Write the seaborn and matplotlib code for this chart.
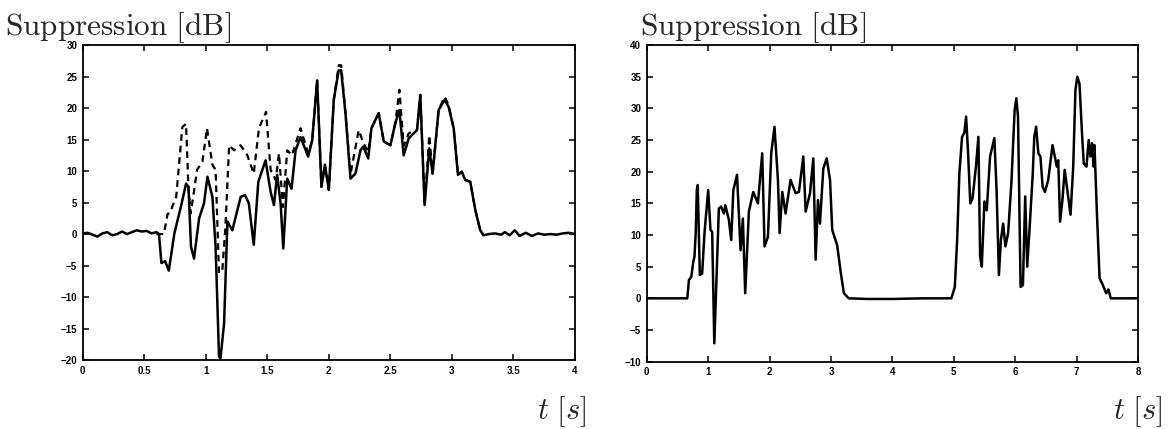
import numpy as np
import pandas as pd
import matplotlib
matplotlib.use("Agg")
import matplotlib.pyplot as plt
import seaborn as sns

# left panel: solid curve
t_left = [0, 0.04, 0.08, 0.12, 0.16, 0.2, 0.24, 0.28, 0.32, 0.36, 0.4, 0.44, 0.48, 0.52, 0.56, 0.6,
          0.62, 0.64, 0.67, 0.70, 0.745, 0.80, 0.84, 0.86, 0.88, 0.905, 0.946, 0.986, 1.014, 1.054,
          1.08, 1.108, 1.12, 1.149, 1.176, 1.216, 1.284, 1.319, 1.35, 1.39, 1.427, 1.486, 1.527,
          1.554, 1.58, 1.608, 1.63, 1.662, 1.697, 1.73, 1.77, 1.832, 1.865, 1.905, 1.94, 1.968,
          2.0, 2.04, 2.08, 2.10, 2.135, 2.176, 2.216, 2.257, 2.28, 2.32, 2.346, 2.405, 2.446, 2.5,
          2.54, 2.573, 2.608, 2.649, 2.716, 2.743, 2.778, 2.816, 2.843, 2.892, 2.94, 2.973, 3.014,
          3.049, 3.08, 3.108, 3.149, 3.19, 3.23, 3.257, 3.3, 3.35, 3.4, 3.43, 3.47, 3.51, 3.55,
          3.6, 3.65, 3.7, 3.75, 3.8, 3.85, 3.9, 3.95, 4.0]
supp_left = [0.1, 0.2, -0.1, -0.4, 0.1, 0.3, -0.2, 0.0, 0.4, 0.0, 0.3, 0.6, 0.4, 0.5, 0.1, 0.3,
             0.0, -4.6, -4.3, -5.8, 0.1, 4.5, 8.0, 7.5, -2.0, -3.9, 2.5, 4.9, 9.1, 5.9,
             -2.0, -19.5, -19.7, -14.2, 2.0, 0.6, 5.9, 6.2, 4.9, -1.7, 8.3, 11.7, 6.7,
             4.6, 9.4, 4.9, -2.3, 8.8, 7.2, 13.3, 15.4, 12.3, 14.9, 24.4, 7.5, 11.0,
             7.0, 21.3, 26.0, 26.0, 19.2, 8.8, 9.6, 13.3, 13.9, 12.0, 16.8, 19.2, 14.7, 14.1,
             17.6, 19.7, 12.5, 15.2, 16.5, 22.1, 4.6, 13.6, 9.6, 19.7, 21.3, 20.2, 16.8,
             9.4, 9.9, 8.6, 8.3, 3.8, 0.6, -0.2, 0.0, 0.1, -0.1, 0.3, -0.2, 0.6, -0.3,
             0.2, -0.3, 0.1, -0.1, 0.0, -0.1, 0.1, 0.2, 0.0]

# left panel: dashed curve
t_dash = [0.6, 0.66, 0.69, 0.707, 0.76, 0.81, 0.84, 0.86, 0.878, 0.93, 0.973, 1.01, 1.054, 1.08,
          1.108, 1.135, 1.16, 1.19, 1.23, 1.284, 1.338, 1.39, 1.432, 1.49, 1.527, 1.568, 1.595,
          1.627, 1.662, 1.70, 1.77, 1.832, 1.865, 1.905, 1.94, 1.968, 2.0, 2.04, 2.08, 2.10,
          2.135, 2.176, 2.19, 2.243, 2.28, 2.32, 2.346, 2.405, 2.446, 2.5, 2.54, 2.573, 2.608,
          2.649, 2.716, 2.743, 2.778, 2.816, 2.843, 2.892, 2.94, 2.973, 3.014, 3.049, 3.08,
          3.108, 3.149, 3.19, 3.23, 3.257]
supp_dash = [0.0, 0.0, 3.2, 3.3, 5.9, 17.0, 17.5, 7.0, 3.3, 10.2, 11.5, 16.8, 11.0, 10.2,
             -6.2, -5.7, 1.2, 14.1, 13.3, 14.1, 12.5, 9.6, 16.8, 19.4, 10.2, 8.6, 12.8,
             4.3, 13.3, 12.5, 16.8, 12.8, 14.9, 24.4, 7.5, 11.0, 7.0, 21.3, 26.8, 26.8,
             19.2, 9.5, 11.0, 16.5, 14.5, 13.0, 16.8, 19.2, 14.7, 14.1, 17.6, 22.9, 14.0,
             16.0, 16.5, 22.1, 4.6, 15.7, 9.6, 19.7, 21.8, 20.5, 16.8, 9.4, 9.9,
             8.6, 8.3, 3.8, 0.6, -0.2]

# right panel
t_right = [0, 0.66, 0.687, 0.725, 0.758, 0.777, 0.797, 0.815, 0.83, 0.864, 0.902, 0.94, 1.0,
           1.038, 1.065, 1.10, 1.147, 1.174, 1.21, 1.255, 1.28, 1.337, 1.375, 1.41, 1.47, 1.527,
           1.565, 1.603, 1.663, 1.734, 1.81, 1.88, 1.918, 1.973, 2.027, 2.08, 2.136, 2.163,
           2.207, 2.26, 2.342, 2.424, 2.478, 2.549, 2.587, 2.658, 2.712, 2.75, 2.788, 2.82,
           2.875, 2.93, 2.984, 3.02, 3.1, 3.16, 3.21, 3.29, 3.6, 4.0, 4.5, 4.96,
           5.016, 5.054, 5.09, 5.134, 5.17, 5.2, 5.23, 5.268, 5.305, 5.36, 5.40, 5.428, 5.455,
           5.498, 5.536, 5.59, 5.66, 5.696, 5.734, 5.766, 5.803, 5.84, 5.884, 5.937, 5.99,
           6.018, 6.045, 6.087, 6.125, 6.162, 6.195, 6.232, 6.285, 6.31, 6.34, 6.376, 6.41,
           6.446, 6.484, 6.537, 6.607, 6.634, 6.676, 6.70, 6.73, 6.768, 6.805, 6.848, 6.90,
           6.944, 6.98, 7.01, 7.046, 7.09, 7.116, 7.16, 7.196, 7.223, 7.25, 7.276, 7.29,
           7.33, 7.373, 7.426, 7.48, 7.517, 7.555, 7.8, 8.0]
supp_right = [0, 0, 2.9, 3.4, 5.8, 6.6, 10.3, 17.1, 17.9, 3.7, 3.9, 10.3, 17.1,
              10.8, 10.5, -7.1, 6.6, 14.2, 14.5, 13.4, 14.7, 12.4, 9.2, 17.1, 19.5, 7.6,
              12.6, 0.8, 13.7, 16.8, 15.0, 22.9, 8.2, 9.7, 22.9, 27.1, 18.7, 10.3,
              16.8, 13.4, 18.7, 16.6, 16.8, 22.4, 13.7, 16.6, 22.1, 6.1, 15.5, 11.8,
              20.5, 22.1, 18.7, 10.8, 8.4, 4.0, 0.8, 0.0, -0.1, -0.1, 0.0, 0.0,
              1.8, 9.2, 19.7, 25.5, 26.1, 28.7, 23.4, 15.0, 15.8, 20.8, 25.5, 6.6, 5.0,
              15.3, 13.9, 22.4, 25.3, 17.1, 3.7, 9.2, 11.8, 8.2, 10.3, 18.2, 29.7,
              31.6, 28.7, 1.8, 2.1, 16.1, 5.0, 10.8, 19.7, 25.5, 27.1, 22.9, 22.4,
              17.6, 16.8, 18.7, 24.2, 22.9, 20.8, 21.8, 12.1, 15.5, 20.3, 17.1, 13.2,
              20.8, 32.9, 35.0, 33.9, 25.5, 21.3, 20.8, 25.0, 22.4, 24.5, 20.8, 24.2,
              13.4, 3.2, 2.1, 0.8, 1.4, 0.0, 0.0, 0.0]

left_xticks = [0, 0.5, 1, 1.5, 2, 2.5, 3, 3.5, 4]
left_xlabels = ["0", "0.5", "1", "1.5", "2", "2.5", "3", "3.5", "4"]
left_yticks = [-20, -15, -10, -5, 0, 5, 10, 15, 20, 25, 30]
right_xticks = [0, 1, 2, 3, 4, 5, 6, 7, 8]
right_yticks = [-10, -5, 0, 5, 10, 15, 20, 25, 30, 35, 40]

sns.set_style("ticks")
plt.rcParams['font.family'] = ['Liberation Sans', 'DejaVu Sans']
plt.rcParams['mathtext.fontset'] = 'cm'

fig = plt.figure(figsize=(11.74, 4.29), dpi=100)
ax1 = fig.add_axes([0.0704, 0.1608, 0.4194, 0.734])
ax2 = fig.add_axes([0.5509, 0.157, 0.4185, 0.738])

sns.lineplot(x=t_dash, y=supp_dash, ax=ax1, color="black", lw=1.6,
             linestyle=(0, (3, 2.2)), estimator=None, sort=False)
sns.lineplot(x=t_left, y=supp_left, ax=ax1, color="black", lw=1.8,
             estimator=None, sort=False)
sns.lineplot(x=t_right, y=supp_right, ax=ax2, color="black", lw=1.8,
             estimator=None, sort=False)

ax1.set_xlim(0, 4)
ax1.set_ylim(-20, 30)
ax1.set_xticks(left_xticks)
ax1.set_xticklabels(left_xlabels)
ax1.set_yticks(left_yticks)

ax2.set_xlim(0, 8)
ax2.set_ylim(-10, 40)
ax2.set_xticks(right_xticks)
ax2.set_yticks(right_yticks)

for ax in (ax1, ax2):
    for s in ax.spines.values():
        s.set_visible(True)
        s.set_linewidth(1.3)
        s.set_color("black")
    ax.tick_params(direction="in", length=4, width=1.1, top=True, right=True,
                   labelsize=7, pad=4, colors="black")
    for lab in ax.get_xticklabels() + ax.get_yticklabels():
        lab.set_fontweight("bold")
    ax.set_xlabel("")
    ax.set_ylabel("")

# titles sit on top of the upper tick label, as in the scan
fig.text(0.004, 0.918, r"$\mathrm{Suppression\ [dB]}$", fontsize=22.5, va="baseline", ha="left")
fig.text(0.545, 0.918, r"$\mathrm{Suppression\ [dB]}$", fontsize=22.5, va="baseline", ha="left")
fig.text(0.457, 0.024, r"$t\ [s]$", fontsize=22, va="baseline", ha="left")
fig.text(0.948, 0.024, r"$t\ [s]$", fontsize=22, va="baseline", ha="left")

fig.savefig("out.png", dpi=100)
